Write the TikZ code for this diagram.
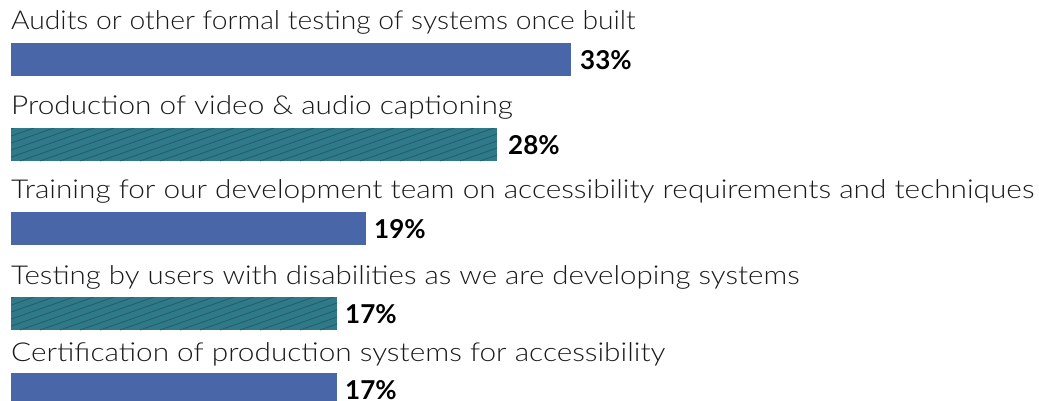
\documentclass[tikz,border=0pt]{standalone}
\usepackage{fontspec}
\setmainfont{Lato}[UprightFont=* Light, BoldFont=* Bold, UprightFeatures={FakeStretch=1.145}]
\definecolor{barblue}{HTML}{4866A8}
\definecolor{barteal}{HTML}{2F7A88}
\definecolor{stripe}{HTML}{255F6B}
\definecolor{txt}{HTML}{1A1A1A}
\tikzset{
  lbl/.style={anchor=base west,inner sep=0pt,text=txt,font=\fontsize{26}{30}\selectfont},
  pct/.style={anchor=base west,inner sep=0pt,text=black,font=\fontsize{26}{30}\selectfont\bfseries},
  bluebar/.style={fill=barblue},
}
\newcommand{\hatchbar}[3]{% x-end, top, bottom
  \begin{scope}
    \clip (11,#2) rectangle (#1,#3);
    \fill[barteal] (11,#2) rectangle (#1,#3);
    \foreach \xx in {-100,-80,...,#1}{
      \draw[stripe,line width=0.9pt] (\xx,#3) -- ++(94,-33);
    }
  \end{scope}}
\begin{document}
\begin{tikzpicture}[x=1pt,y=-1pt]
\useasboundingbox (0,0) rectangle (1039,400);
% row 1
\node[lbl] (l1) at (11,29) {\scalebox{0.949}[1]{Audits or other formal testing of systems once built}};
\fill[bluebar] (11,43) rectangle (571,76);
\node[pct] (p1) at (580,69) {33\%};
% row 2
\node[lbl] (l2) at (11,114) {Production of video \& audio captioning};
\hatchbar{497}{128}{161}
\node[pct] (p2) at (508,154) {28\%};
% row 3
\node[lbl] (l3) at (11,198) {Training for our development team on accessibility requirements and techniques};
\fill[bluebar] (11,212) rectangle (366,245);
\node[pct] (p3) at (374,238) {19\%};
% row 4
\node[lbl] (l4) at (11,284) {\scalebox{0.99}[1]{Testing by users with disabilities as we are developing systems}};
\hatchbar{337}{297}{330}
\node[pct] (p4) at (345,323) {17\%};
% row 5
\node[lbl] (l5) at (11,361) {Certification of production systems for accessibility};
\fill[bluebar] (11,373) rectangle (337,406);
\node[pct] (p5) at (345,399) {17\%};
\end{tikzpicture}
\end{document}
